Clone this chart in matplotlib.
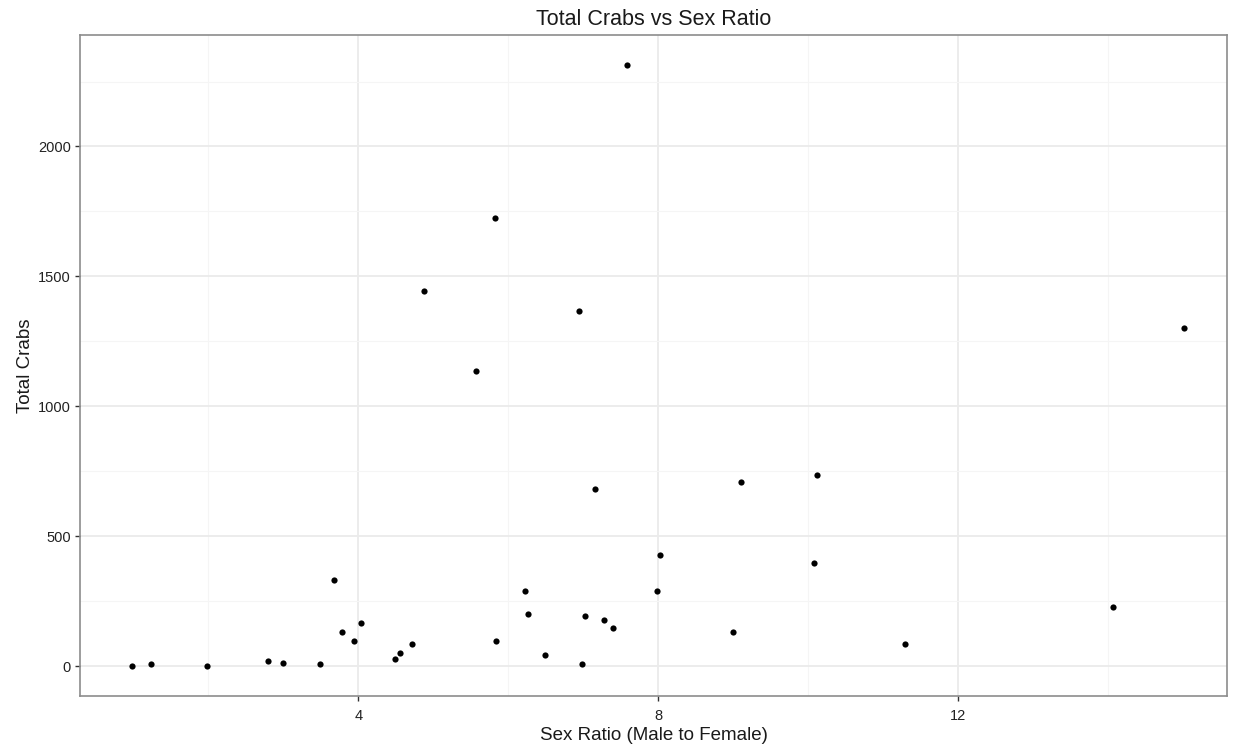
import matplotlib.pyplot as plt
import numpy as np

plt.rcParams['font.family'] = ['Liberation Sans', 'DejaVu Sans']

# sex ratio (male to female) and total crabs per site
sex_ratio = [0.99, 1.24, 1.99, 2.79, 2.99, 3.49, 3.67, 3.78, 3.94, 4.03,
             4.49, 4.55, 4.71, 4.88, 5.57, 5.82, 5.84, 6.22, 6.26, 6.49,
             6.94, 6.98, 7.02, 7.15, 7.27, 7.40, 7.58, 7.98, 8.02, 9.00,
             9.10, 10.08, 10.12, 11.29, 14.06, 15.01]
total_crabs = [2, 8, 1, 21, 14, 8, 333, 134, 99, 165,
               27, 50, 86, 1444, 1137, 1726, 99, 291, 201, 44,
               1366, 8, 195, 681, 177, 146, 2315, 291, 429, 134,
               711, 398, 735, 86, 230, 1300]

x_ticks = [4, 8, 12]
y_ticks = [0, 500, 1000, 1500, 2000]

fig = plt.figure(figsize=(12.36, 7.5), dpi=100)
ax = fig.add_axes([0.0647, 0.072, 0.928, 0.8817])

ax.scatter(sex_ratio, total_crabs, s=20, color='black', zorder=3, linewidths=0)

ax.set_xlim(0.29, 15.58)
ax.set_ylim(-114, 2430)
ax.set_xticks(x_ticks)
ax.set_yticks(y_ticks)
ax.set_xticks([2, 6, 10, 14], minor=True)
ax.set_yticks([250, 750, 1250, 1750, 2250], minor=True)

ax.grid(which='major', color='#ebebeb', linewidth=1.3, zorder=0)
ax.grid(which='minor', color='#f5f5f5', linewidth=0.8, zorder=0)
ax.set_axisbelow(True)

for sp in ax.spines.values():
    sp.set_color('#8c8c8c')
    sp.set_linewidth(1.2)

ax.tick_params(which='major', length=3.5, width=1, color='#333333',
               labelsize=10.5, labelcolor='#222222')
ax.tick_params(axis='x', pad=6)
ax.tick_params(axis='y', pad=3)
ax.tick_params(which='minor', length=0)

ax.set_title('Total Crabs vs Sex Ratio', fontsize=15.5, color='#1a1a1a', pad=7)
ax.set_xlabel('Sex Ratio (Male to Female)', fontsize=13.5, color='#1a1a1a', labelpad=3)
ax.set_ylabel('Total Crabs', fontsize=13.5, color='#1a1a1a', labelpad=3)

fig.savefig('out.png', dpi=100)
